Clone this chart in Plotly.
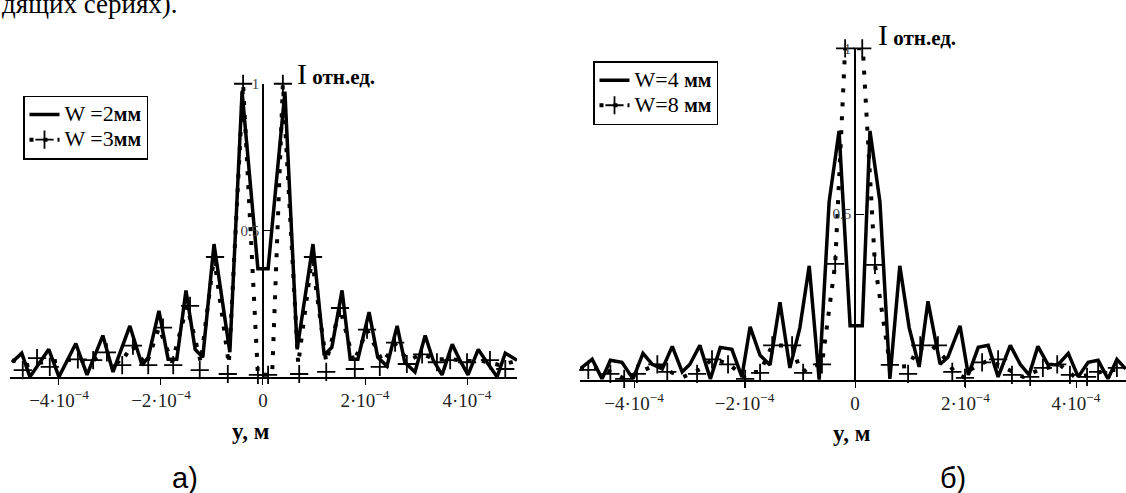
import plotly.graph_objects as go

W, H = 1126, 493
E4 = 1e-4  # x values below are in units of 1e-4 m

# ---------------- Panel a ----------------
A_W2_X = [-4.92, -4.73, -4.57, -4.20, -4.00, -3.67, -3.45, -3.14, -2.94, -2.61, -2.37, -2.25,
          -2.04, -1.86, -1.69, -1.51, -1.33, -1.18, -0.96, -0.65, -0.41, -0.10, 0.10, 0.43,
          0.67, 0.98, 1.20, 1.35, 1.55, 1.71, 1.86, 2.08, 2.25, 2.43, 2.63, 2.78,
          2.98, 3.18, 3.33, 3.51, 3.71, 3.86, 4.02, 4.22, 4.39, 4.59, 4.75, 4.98]
A_W2_Y = [0.050, 0.081, 0.0, 0.094, 0.0, 0.114, 0.007, 0.141, 0.017, 0.174, 0.040, 0.067,
          0.225, 0.060, 0.060, 0.295, 0.094, 0.067, 0.453, 0.084, 0.973, 0.369, 0.369, 0.973,
          0.094, 0.453, 0.074, 0.101, 0.295, 0.060, 0.060, 0.221, 0.067, 0.037, 0.174, 0.050,
          0.017, 0.141, 0.060, 0.007, 0.111, 0.057, 0.007, 0.094, 0.050, 0.0, 0.081, 0.057]

A_W3_X = [-4.92, -4.61, -4.31, -3.98, -3.69, -3.39, -3.06, -2.80, -2.57, -2.29, -2.04, -1.78,
          -1.49, -1.22, -0.96, -0.67, -0.39, -0.10, 0.18, 0.39, 0.69, 0.96, 1.24, 1.51,
          1.78, 2.04, 2.35, 2.59, 2.84, 3.12, 3.41, 3.71, 4.02, 4.31, 4.65, 4.96]
A_W3_Y = [0.057, 0.040, 0.050, 0.057, 0.060, 0.050, 0.084, 0.044, 0.107, 0.040, 0.168, 0.050,
          0.242, 0.050, 0.409, 0.044, 1.0, 0.007, 0.007, 1.0, 0.044, 0.403, 0.050, 0.235,
          0.050, 0.161, 0.050, 0.111, 0.057, 0.077, 0.060, 0.060, 0.054, 0.054, 0.040, 0.054]

A_W3_PX = [-4.71, -4.43, -4.18, -3.63, -3.33, -3.06, -2.76, -2.55, -2.25, -1.96, -1.76, -1.43,
           -1.24, -0.94, -0.69, -0.39, -0.10, 0.10, 0.39, 0.71, 0.98, 1.24, 1.51, 1.80,
           2.04, 2.29, 2.59, 2.82, 3.12, 3.41, 3.67, 4.00, 4.45, 4.75]
A_W3_PY = [0.023, 0.064, 0.034, 0.060, 0.057, 0.084, 0.040, 0.107, 0.040, 0.168, 0.040, 0.242,
           0.023, 0.409, 0.010, 1.0, 0.007, 0.007, 1.0, 0.010, 0.409, 0.017, 0.235, 0.027,
           0.161, 0.034, 0.117, 0.044, 0.077, 0.050, 0.057, 0.050, 0.057, 0.027]

# ---------------- Panel b ----------------
B_W4_X = [-4.98, -4.76, -4.58, -4.43, -4.22, -4.02, -3.84, -3.67, -3.49, -3.31, -3.13, -2.99,
          -2.81, -2.62, -2.44, -2.23, -2.05, -1.90, -1.72, -1.54, -1.36, -1.18, -1.00, -0.83,
          -0.65, -0.47, -0.29, -0.09, 0.13, 0.27, 0.45, 0.63, 0.81, 0.98, 1.16, 1.32,
          1.54, 1.68, 1.90, 2.05, 2.23, 2.41, 2.59, 2.81, 2.99, 3.15, 3.31, 3.49,
          3.67, 3.86, 4.04, 4.22, 4.40, 4.58, 4.74, 4.90]
B_W4_Y = [0.033, 0.062, 0.003, 0.059, 0.053, 0.003, 0.080, 0.047, 0.033, 0.101, 0.024, 0.047,
          0.104, 0.003, 0.098, 0.092, 0.009, 0.160, 0.074, 0.045, 0.234, 0.036, 0.157, 0.344,
          0.0, 0.537, 0.751, 0.163, 0.163, 0.751, 0.537, 0.003, 0.344, 0.157, 0.039, 0.237,
          0.047, 0.068, 0.163, 0.015, 0.098, 0.104, 0.009, 0.104, 0.047, 0.015, 0.101, 0.047,
          0.045, 0.080, 0.009, 0.053, 0.059, 0.003, 0.062, 0.033]

B_W8_X = [-4.98, -4.63, -4.33, -4.18, -3.98, -3.58, -3.44, -3.11, -2.79, -2.59, -2.30, -1.99,
          -1.86, -1.72, -1.50, -1.14, -1.03, -0.94, -0.80, -0.60, -0.36, -0.18, 0.14, 0.36,
          0.63, 0.72, 0.98, 1.12, 1.39, 1.61, 1.81, 1.99, 2.08, 2.41, 2.71, 3.04,
          3.33, 3.71, 3.98, 4.25, 4.58, 4.85]
B_W8_Y = [0.033, 0.036, 0.018, 0.003, 0.018, 0.047, 0.030, 0.009, 0.033, 0.062, 0.050, 0.006,
          0.024, 0.024, 0.104, 0.104, 0.047, 0.024, 0.042, 0.047, 0.350, 1.0, 1.0, 0.347,
          0.047, 0.039, 0.042, 0.092, 0.104, 0.068, 0.021, 0.006, 0.030, 0.059, 0.036, 0.009,
          0.030, 0.045, 0.009, 0.015, 0.030, 0.030]

B_W8_PX = [-4.83, -4.43, -4.18, -3.95, -3.58, -3.40, -2.86, -2.59, -2.30, -1.99, -1.72, -1.50,
           -1.14, -0.94, -0.60, -0.36, -0.18, 0.13, 0.36, 0.63, 0.96, 1.18, 1.50, 1.76,
           1.99, 2.30, 2.59, 2.84, 3.17, 3.40, 3.66, 3.89, 4.20, 4.40, 4.74]
B_W8_PY = [0.030, 0.018, 0.003, 0.018, 0.047, 0.024, 0.018, 0.062, 0.047, 0.003, 0.021, 0.104,
           0.104, 0.021, 0.047, 0.350, 1.0, 1.0, 0.347, 0.045, 0.018, 0.104, 0.104, 0.024,
           0.006, 0.053, 0.062, 0.015, 0.009, 0.036, 0.047, 0.015, 0.009, 0.024, 0.036]

XTICK_VALS = [-4, -2, 0, 2, 4]
XTICK_TEXT = ["\u22124\u00b710<sup>\u22124</sup>", "\u22122\u00b710<sup>\u22124</sup>", "0",
              "2\u00b710<sup>\u22124</sup>", "4\u00b710<sup>\u22124</sup>"]
YTICK_VALS = [0.5, 1]
YTICK_TEXT = ["0.5", "1"]

SERIF = "Liberation Serif"


def fx(px):
    return px / W


def fy(py):
    return 1 - py / H


def m(vals):
    return [v * E4 for v in vals]


def leg_name(main):
    return ("<span style='font-size:22px'>" + main + "</span>"
            "<b><span style='font-size:20px'>мм</span></b>")


solid = dict(color="black", width=3.5)
dotted = dict(color="black", width=4, dash="4px,10px")
plus = dict(symbol="cross-thin", size=13, color="black", line=dict(width=1.8, color="black"))

fig = go.Figure()

# panel a
fig.add_trace(go.Scatter(x=m(A_W2_X), y=A_W2_Y, mode="lines", line=solid,
                         name=leg_name("W =2"),
                         xaxis="x", yaxis="y", legend="legend", cliponaxis=False))
fig.add_trace(go.Scatter(x=m(A_W3_X), y=A_W3_Y, mode="lines", line=dotted, showlegend=False,
                         xaxis="x", yaxis="y", cliponaxis=False))
fig.add_trace(go.Scatter(x=m(A_W3_PX), y=A_W3_PY, mode="markers", marker=plus, showlegend=False,
                         xaxis="x", yaxis="y", cliponaxis=False))
fig.add_trace(go.Scatter(x=[None], y=[None], mode="lines+markers", line=dotted, marker=plus,
                         name=leg_name("W =3"),
                         xaxis="x", yaxis="y", legend="legend"))

# panel b
fig.add_trace(go.Scatter(x=m(B_W4_X), y=B_W4_Y, mode="lines", line=solid,
                         name=leg_name("W=4 "),
                         xaxis="x2", yaxis="y2", legend="legend2", cliponaxis=False))
fig.add_trace(go.Scatter(x=m(B_W8_X), y=B_W8_Y, mode="lines", line=dotted, showlegend=False,
                         xaxis="x2", yaxis="y2", cliponaxis=False))
fig.add_trace(go.Scatter(x=m(B_W8_PX), y=B_W8_PY, mode="markers", marker=plus, showlegend=False,
                         xaxis="x2", yaxis="y2", cliponaxis=False))
fig.add_trace(go.Scatter(x=[None], y=[None], mode="lines+markers", line=dotted, marker=plus,
                         name=leg_name("W=8 "),
                         xaxis="x2", yaxis="y2", legend="legend2"))

xax = dict(showline=True, linecolor="black", linewidth=1.5, ticks="outside", ticklen=6,
           tickwidth=1.2, tickcolor="black", tickvals=m(XTICK_VALS), ticktext=XTICK_TEXT,
           showgrid=False, zeroline=False,
           tickfont=dict(family=SERIF, size=19, color="#222"))
yax = dict(showline=True, linecolor="black", linewidth=1.5, ticks="inside", ticklen=8,
           tickwidth=1.2, tickcolor="black", tickvals=YTICK_VALS, ticktext=YTICK_TEXT,
           showgrid=False, zeroline=False, range=[0, 1], anchor="free",
           tickfont=dict(family=SERIF, size=15, color="#444"))

leg = dict(xanchor="left", yanchor="top", bordercolor="black", borderwidth=1.5, bgcolor="white",
           font=dict(family=SERIF, size=17, color="black"), itemwidth=30, tracegroupgap=0)

annotations = [
    dict(text="<span style='font-size:30px'>I</span> <b>отн.ед.</b>", x=fx(295), y=fy(67),
         xref="paper", yref="paper", xanchor="left", yanchor="middle", showarrow=False,
         font=dict(family=SERIF, size=21, color="black")),
    dict(text="<span style='font-size:30px'>I</span> <b>отн.ед.</b>", x=fx(876), y=fy(27),
         xref="paper", yref="paper", xanchor="left", yanchor="middle", showarrow=False,
         font=dict(family=SERIF, size=21, color="black")),
    dict(text="<b>y, м</b>", x=fx(251), y=fy(430), xref="paper", yref="paper",
         xanchor="center", yanchor="middle", showarrow=False,
         font=dict(family=SERIF, size=23, color="black")),
    dict(text="<b>y, м</b>", x=fx(851), y=fy(433), xref="paper", yref="paper",
         xanchor="center", yanchor="middle", showarrow=False,
         font=dict(family=SERIF, size=23, color="black")),
    dict(text="а)", x=fx(185), y=fy(478), xref="paper", yref="paper",
         xanchor="center", yanchor="middle", showarrow=False,
         font=dict(family="Liberation Sans", size=29, color="black")),
    dict(text="б)", x=fx(953), y=fy(478), xref="paper", yref="paper",
         xanchor="center", yanchor="middle", showarrow=False,
         font=dict(family="Liberation Sans", size=29, color="black")),
    dict(text="дящих сериях).", x=0, y=fy(13), xref="paper", yref="paper",
         xanchor="left", yanchor="bottom", showarrow=False,
         font=dict(family=SERIF, size=27, color="black")),
]

fig.update_layout(
    width=W, height=H, margin=dict(l=0, r=0, t=0, b=0),
    paper_bgcolor="white", plot_bgcolor="white",
    xaxis=dict(xax, domain=[fx(10), fx(517)], range=[-4.96 * E4, 4.98 * E4], anchor="y"),
    yaxis=dict(yax, domain=[fy(375), fy(77)], position=fx(263)),
    xaxis2=dict(xax, domain=[fx(580), 1.0], range=[-4.98 * E4, 4.905 * E4], anchor="y2"),
    yaxis2=dict(yax, domain=[fy(378), fy(41)], position=fx(855)),
    legend=dict(leg, x=fx(23), y=fy(89)),
    legend2=dict(leg, x=fx(593), y=fy(54)),
    annotations=annotations,
    showlegend=True,
)

fig.write_html("out.html", config={"displayModeBar": False},
               post_script="document.body.style.margin='0';document.body.style.overflow='hidden';")
